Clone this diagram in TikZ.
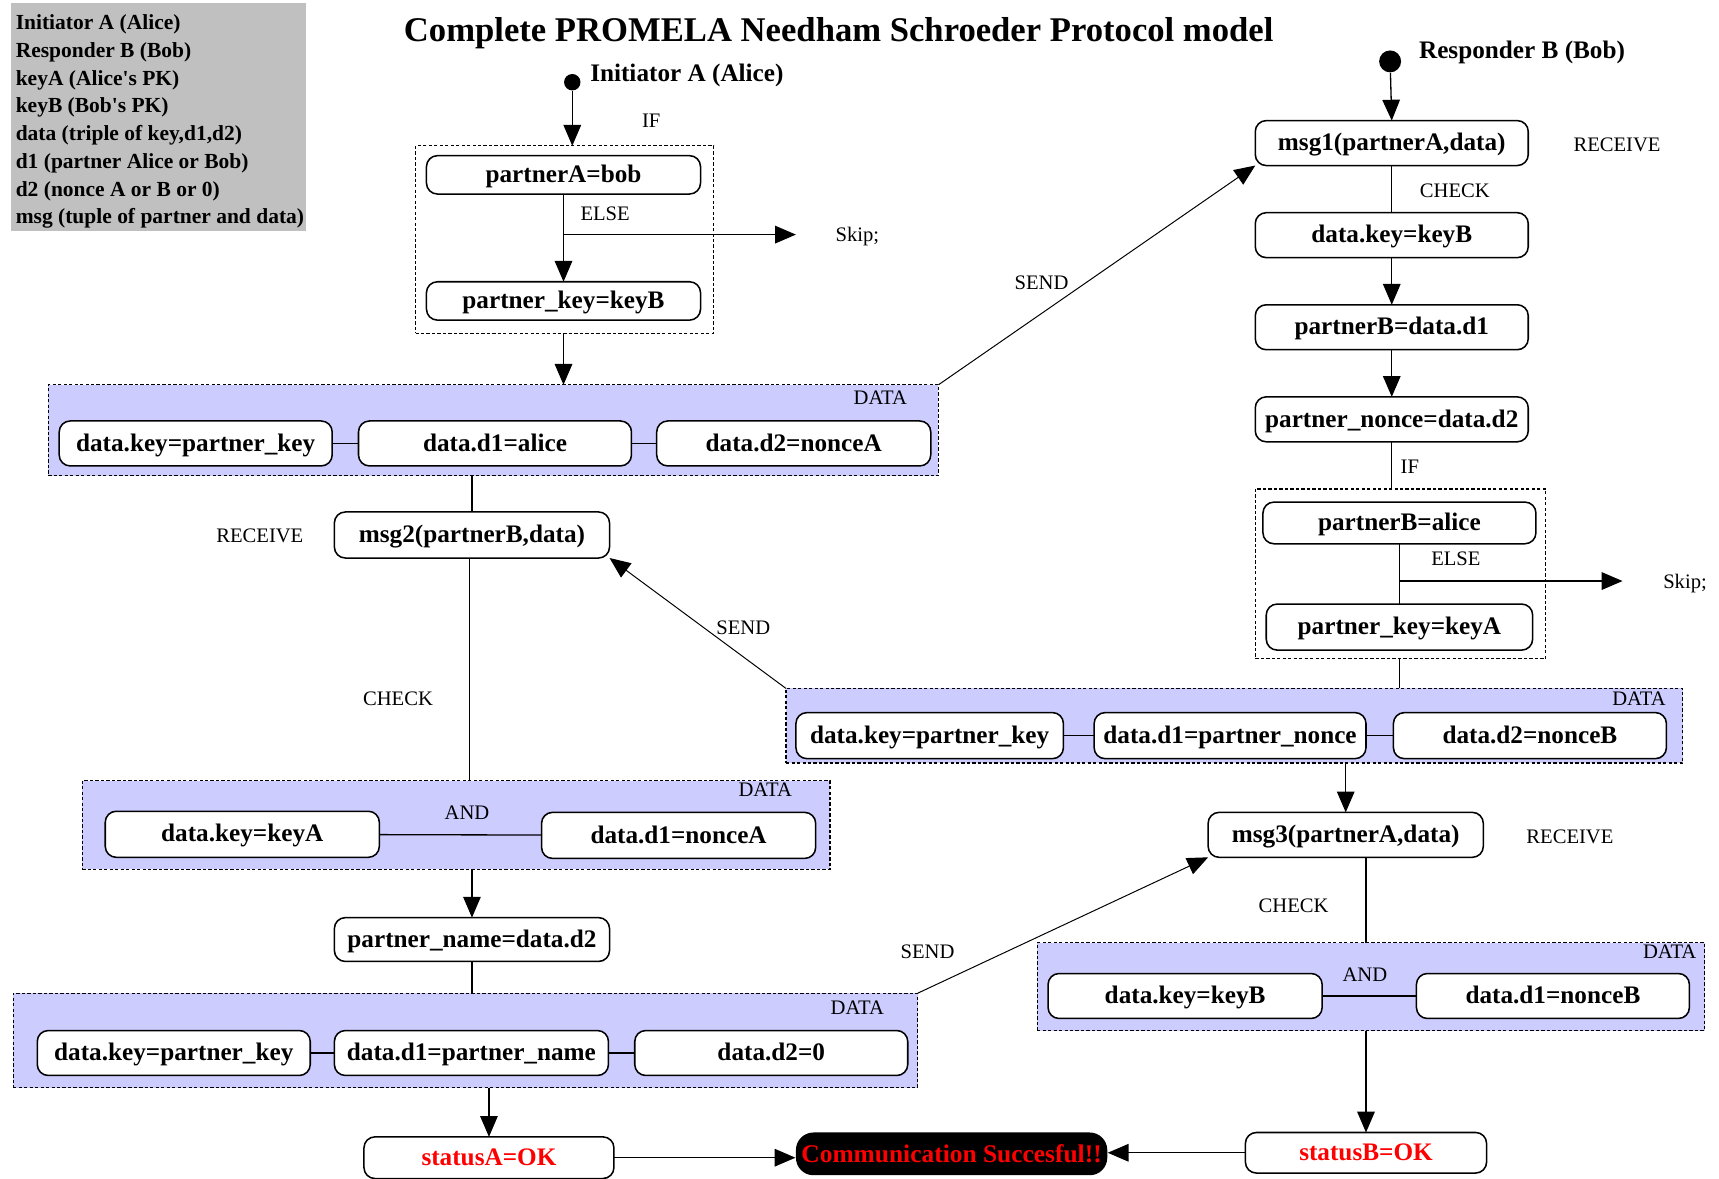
\documentclass[tikz,border=0pt]{standalone}
\usepackage{fontspec}
\setmainfont{Liberation Serif}
\usetikzlibrary{arrows.meta}

\definecolor{grpblue}{RGB}{204,204,255}
\definecolor{legendgray}{RGB}{192,192,192}
\definecolor{okred}{RGB}{255,0,0}

\newcommand\nodefont{\fontsize{11.5}{14}\selectfont\bfseries}
\newcommand\lblfont{\fontsize{9.4}{11}\selectfont}

% rectangle-shaped node given by its two corners
\newcommand\mkbox[7]{%
  \node[#1, minimum width={(#5-#3)*0.5pt}, minimum height={(#6-#4)*0.5pt}]
    (#2) at ({(#3+#5)/2},{(#4+#6)/2}) {#7};}

\tikzset{
  box/.style={draw, line width=0.7pt, rounded corners=5pt, fill=white,
    inner sep=0pt, outer sep=0pt, font=\nodefont, text height=9pt, text depth=2pt},
  okbox/.style={box, text=okred},
  grp/.style={draw, dash pattern=on 1.5pt off 1pt, line width=0.55pt,
    fill=grpblue, inner sep=0pt, outer sep=0pt},
  ifgrp/.style={draw, dash pattern=on 1.5pt off 1pt, line width=0.55pt,
    inner sep=0pt, outer sep=0pt},
  lbl/.style={font=\lblfont, inner sep=0pt},
  arr/.style={line width=0.6pt, -{Triangle[length=9.5pt,width=8pt]}},
  link/.style={line width=0.6pt},
  send/.style={line width=0.45pt, -{Triangle[length=9.5pt,width=8pt]}},
  startdot/.style={circle, fill=black, inner sep=0pt},
}

\begin{document}
\begin{tikzpicture}[x=0.5pt, y=-0.5pt]
\useasboundingbox[fill=white] (0,0) rectangle (1568,1075);

% legend
\mkbox{fill=legendgray, inner sep=0pt}{legend}{10}{3}{279}{211}{}
\node[anchor=north west, align=left, inner sep=0pt,
      font=\fontsize{9.8}{12.65}\selectfont\bfseries] (legendtext) at (14,13)
  {Initiator A (Alice)\\Responder B (Bob)\\keyA (Alice\textquotesingle s PK)\\
   keyB (Bob\textquotesingle s PK)\\
   data (triple of key,d1,d2)\\d1 (partner Alice or Bob)\\d2 (nonce A or B or 0)\\
   msg (tuple of partner and data)};

% title
\node[inner sep=0pt, font=\fontsize{15.8}{19}\selectfont\bfseries] (title) at (765,30)
  {Complete PROMELA Needham Schroeder Protocol model};

% ---------------- initiator A ----------------
\node[startdot, minimum size=7.5pt] (startA) at (522,75) {};
\node[anchor=west, inner sep=0pt, font=\nodefont] (startAlbl) at (538,69) {Initiator A (Alice)};

\mkbox{ifgrp}{ifboxA}{379}{133}{651}{304}{}
\mkbox{box}{pAbob}{389}{142}{639}{177}{partnerA=bob}
\mkbox{box}{pkB}{389}{257}{639}{292}{partner\_key=keyB}

\mkbox{grp}{dataA1}{44}{351}{856}{434}{}
\mkbox{box}{a1key}{54}{384}{303}{425}{data.key=partner\_key}
\mkbox{box}{a1d1}{327}{384}{576}{425}{data.d1=alice}
\mkbox{box}{a1d2}{599}{384}{849}{425}{data.d2=nonceA}

\mkbox{box}{msg2}{305}{467}{556}{509}{msg2(partnerB,data)}

\mkbox{grp}{dataA2}{75}{712}{757}{793}{}
\mkbox{box}{a2key}{96}{740}{346}{782}{data.key=keyA}
\mkbox{box}{a2d1}{494}{741}{744}{783}{data.d1=nonceA}

\mkbox{box}{pname}{305}{837}{556}{877}{partner\_name=data.d2}

\mkbox{grp}{dataA3}{12}{906}{837}{992}{}
\mkbox{box}{a3key}{34}{940}{283}{981}{data.key=partner\_key}
\mkbox{box}{a3d1}{305}{940}{555}{981}{data.d1=partner\_name}
\mkbox{box}{a3d2}{579}{940}{828}{981}{data.d2=0}

\mkbox{okbox}{statusA}{332}{1037}{560}{1075}{statusA=OK}

% ---------------- responder B ----------------
\node[startdot, minimum size=10pt] (startB) at (1268,56) {};
\node[anchor=west, inner sep=0pt, font=\nodefont] (startBlbl) at (1294,48) {Responder B (Bob)};

\mkbox{box}{msg1}{1145}{110}{1394}{151}{msg1(partnerA,data)}
\mkbox{box}{dkB}{1145}{194}{1394}{235}{data.key=keyB}
\mkbox{box}{pBd1}{1145}{278}{1394}{319}{partnerB=data.d1}
\mkbox{box}{pnonce}{1145}{362}{1394}{403}{partner\_nonce=data.d2}

\mkbox{ifgrp}{ifboxB}{1145}{446}{1410}{601}{}
\mkbox{box}{pBalice}{1152}{458}{1401}{496}{partnerB=alice}
\mkbox{box}{pkA}{1155}{551}{1398}{593}{partner\_key=keyA}

\mkbox{grp}{dataB1}{717}{628}{1535}{696}{}
\mkbox{box}{b1key}{726}{650}{970}{692}{data.key=partner\_key}
\mkbox{box}{b1d1}{998}{650}{1246}{692}{data.d1=partner\_nonce}
\mkbox{box}{b1d2}{1271}{650}{1520}{692}{data.d2=nonceB}

\mkbox{box}{msg3}{1102}{741}{1353}{782}{msg3(partnerA,data)}

\mkbox{grp}{dataB2}{946}{860}{1555}{940}{}
\mkbox{box}{b2key}{956}{888}{1206}{929}{data.key=keyB}
\mkbox{box}{b2d1}{1292}{888}{1541}{929}{data.d1=nonceB}

\mkbox{okbox}{statusB}{1136}{1033}{1356}{1070}{statusB=OK}

% final state
\node[fill=black, rounded corners=8pt, inner sep=0pt, minimum width=142pt, minimum height=19.5pt,
      text=okred, font=\fontsize{11.6}{13}\selectfont\bfseries] (comm) at (868,1052.5)
  {Communication Succesful!!};

% ---------------- labels ----------------
\node[lbl] (ifA) at (594,110) {IF};
\node[lbl] (elseA) at (552,195) {ELSE};
\node[lbl] (skipA) at (782,216) {Skip;};
\node[lbl] (send1) at (950,258) {SEND};
\node[lbl] (recv1) at (1475,132) {RECEIVE};
\node[lbl] (check1) at (1327,174) {CHECK};
\node[lbl] (ifB) at (1286,426) {IF};
\node[lbl] (elseB) at (1328,510) {ELSE};
\node[lbl] (skipB) at (1537,532) {Skip;};
\node[lbl] (recv2) at (237,489) {RECEIVE};
\node[lbl] (send2) at (678,573) {SEND};
\node[lbl] (check2) at (363,637) {CHECK};
\node[lbl] (andA) at (426,741) {AND};
\node[lbl] (recv3) at (1432,763) {RECEIVE};
\node[lbl] (check3) at (1180,826) {CHECK};
\node[lbl] (send3) at (846,868) {SEND};
\node[lbl] (andB) at (1245,889) {AND};
\node[lbl] (dA1) at (803,363) {DATA};
\node[lbl] (dB1) at (1495,637) {DATA};
\node[lbl] (dA2) at (698,720) {DATA};
\node[lbl] (dA3) at (782,919) {DATA};
\node[lbl] (dB2) at (1523,868) {DATA};

% ---------------- connectors: initiator ----------------
\draw[arr] (startA) -- (startA |- ifboxA.north);
\draw[arr] (pAbob.south) -- (pkB.north);
\coordinate (branchA) at (514,214);
\coordinate (skipAend) at (726,214);
\draw[arr] (branchA) -- (skipAend);
\draw[arr] (pkB.south |- ifboxA.south) -- (pkB.south |- dataA1.north);
\draw[link] (a1key) -- (a1d1);
\draw[link] (a1d1) -- (a1d2);
\draw[link] (msg2.north |- dataA1.south) -- (msg2.north);
\draw[link] (428,509) -- (428,712);
\draw[link] (a2key) -- (a2d1);
\draw[arr] (pname.north |- dataA2.south) -- (pname.north);
\draw[link] (pname.south) -- (pname.south |- dataA3.north);
\draw[link] (a3key) -- (a3d1);
\draw[link] (a3d1) -- (a3d2);
\draw[arr] (statusA.north |- dataA3.south) -- (statusA.north);
\draw[arr] (statusA.east) -- (statusA.east -| comm.west);

% ---------------- connectors: responder ----------------
\draw[arr] (startB) -- (msg1.north);
\draw[link] (msg1.south) -- (dkB.north);
\draw[arr] (dkB.south) -- (pBd1.north);
\draw[arr] (pBd1.south) -- (pnonce.north);
\draw[link] (pnonce.south) -- (pnonce.south |- ifboxB.north);
\draw[link] (pBalice.south) -- (pkA.north);
\coordinate (branchB) at (1277,530);
\coordinate (skipBend) at (1480,530);
\draw[arr] (branchB) -- (skipBend);
\draw[link] (pkA.south |- ifboxB.south) -- (pkA.south |- dataB1.north);
\draw[link] (b1key) -- (b1d1);
\draw[link] (b1d1) -- (b1d2);
\draw[arr] (msg3.north |- dataB1.south) -- (msg3.north);
\draw[link] (statusB.north |- msg3.south) -- (statusB.north |- dataB2.north);
\draw[link] (b2key) -- (b2d1);
\draw[arr] (statusB.north |- dataB2.south) -- (statusB.north);
\draw[arr] (statusB.west) -- (statusB.west -| comm.east);

% ---------------- messages between the two parties ----------------
\draw[send] (dataA1.north east) -- (msg1.south west);
\draw[send] (dataB1.north west) -- (msg2.south east);
\draw[send] (dataA3.north east) -- (msg3.south west);
\end{tikzpicture}
\end{document}
